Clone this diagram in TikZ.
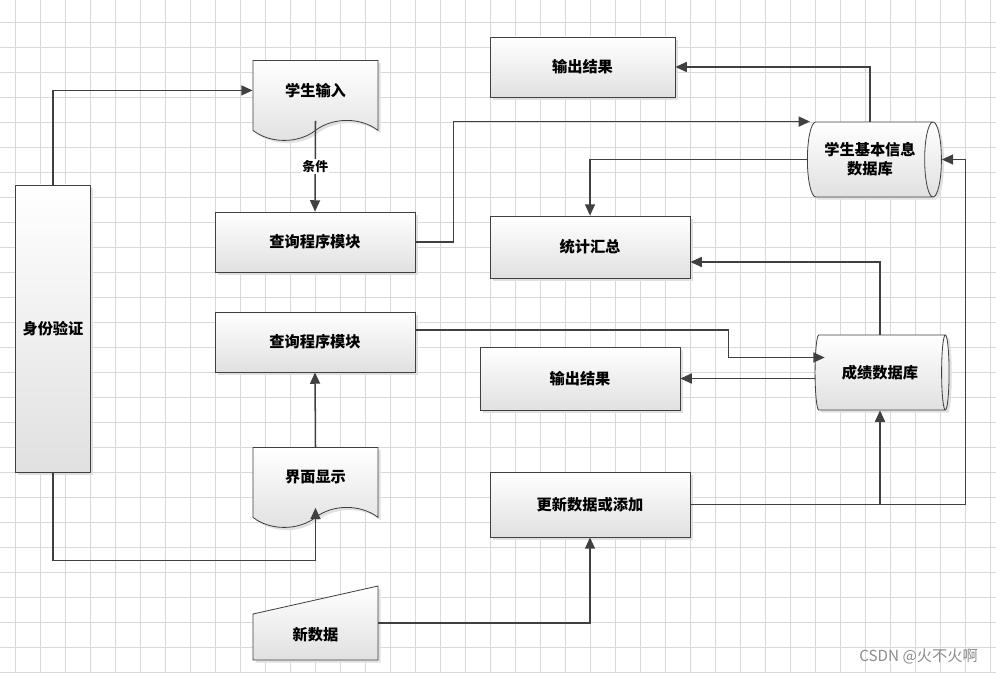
\documentclass[tikz,border=0pt]{standalone}
\usepackage{fontspec}
\usepackage{tikz}
\usetikzlibrary{arrows.meta,shapes.geometric,shapes.symbols,shadows}
\newfontfamily\cjk{Noto Sans CJK SC}

\begin{document}
\begin{tikzpicture}[x=0.03cm,y=-0.03cm,
	box/.style={draw=black!75, line width=0.7pt, top color=white, bottom color=black!12,
		drop shadow={shadow xshift=0.08cm, shadow yshift=-0.08cm, fill=black!12, opacity=1},
		font=\cjk\bfseries\fontsize{13}{16}\selectfont, align=center, inner sep=0pt},
	doc/.style={box, tape, tape bend top=none, tape bend bottom=in and out,
		tape bend height=0.6cm, minimum width=3.75cm, minimum height=2.4cm},
	db/.style={box, cylinder, aspect=0.5, minimum height=4.02cm, minimum width=2.25cm},
	flow/.style={draw=black!75, line width=1.3pt, -{Triangle[length=3.4mm,width=3mm]}},
	gridline/.style={draw=black!15, line width=0.5pt}]
	\fill[white] (0,0) rectangle (996,673);
	\useasboundingbox (0,0) rectangle (996,673);
	\foreach \gx in {15.5,40.5,...,990.5} \draw[gridline] (\gx,0) -- (\gx,673);
	\foreach \gy in {22,47,...,672} \draw[gridline] (0,\gy) -- (996,\gy);

	% left column
	\node[box, minimum width=2.25cm, minimum height=8.61cm] (auth) at (53,328.5) {身份验证};
	\node[doc, anchor=north] (stuin) at (315.5,60) {学生输入};
	\node[box, minimum width=6cm, minimum height=1.8cm] (query1) at (315,242) {查询程序模块};
	\node[box, minimum width=6cm, minimum height=1.8cm] (query2) at (315,342) {查询程序模块};
	\node[doc, anchor=north] (show) at (315.5,447) {界面显示};
	\shade[box] (253,660) -- (253,614) -- (378,586) -- (378,660) -- cycle;
	\node[font=\cjk\bfseries\fontsize{13}{16}\selectfont, inner sep=0pt, minimum width=3.75cm,
		minimum height=2.22cm, text height=1.15cm, text depth=0.1cm] (newdata) at (315.5,623) {新数据};

	% right column
	\node[box, minimum width=5.55cm, minimum height=1.8cm] (out1) at (582.5,67) {输出结果};
	\node[box, minimum width=6cm, minimum height=1.86cm] (sumup) at (590,247) {统计汇总};
	\node[box, minimum width=6cm, minimum height=1.89cm] (out2) at (580,378.5) {输出结果};
	\node[box, minimum width=6cm, minimum height=1.95cm] (update) at (590,504.5) {更新数据或添加};
	\node[db] (studb) at (870,159.5) {学生基本信息\\数据库};
	\node[db] (gradedb) at (880,372.5) {成绩数据库};

	\draw[flow] (auth.north) |- (stuin.west);
	\draw[flow] (stuin.south) -- node[fill=white, inner sep=1pt, font=\cjk\bfseries\fontsize{11}{13}\selectfont] (cond) {条件} (query1.north);
	\draw[flow] (auth.south) -- ++(0,88) -| (show.south);
	\draw[flow] (show.north) -- (query2.south);
	\draw[flow] (query1.east) -- ++(38,0) |- ([xshift=-1.8cm]studb.north);
	\draw[flow] (studb.north) |- (out1.east);
	\draw[flow] (studb.west) -| (sumup.north);
	\draw[flow] (gradedb.north) |- ([yshift=-0.45cm]sumup.east);
	\draw[flow] ([yshift=0.36cm]query2.east) -- ++(313,0) |- ([shift={(0.3cm,0.45cm)}]gradedb.west);
	\draw[flow] (gradedb.west |- out2.east) -- (out2.east);
	\draw[flow] (update.east) -- ++(275,0) |- (studb.east);
	\draw[flow] (gradedb.south |- update.east) -- (gradedb.south);
	\draw[flow] (newdata.east) -| (update.south);

	\node[anchor=east, text=black!45, font=\cjk\fontsize{13}{15}\selectfont] (mark) at (982,656) {CSDN @火不火啊};
\end{tikzpicture}
\end{document}
